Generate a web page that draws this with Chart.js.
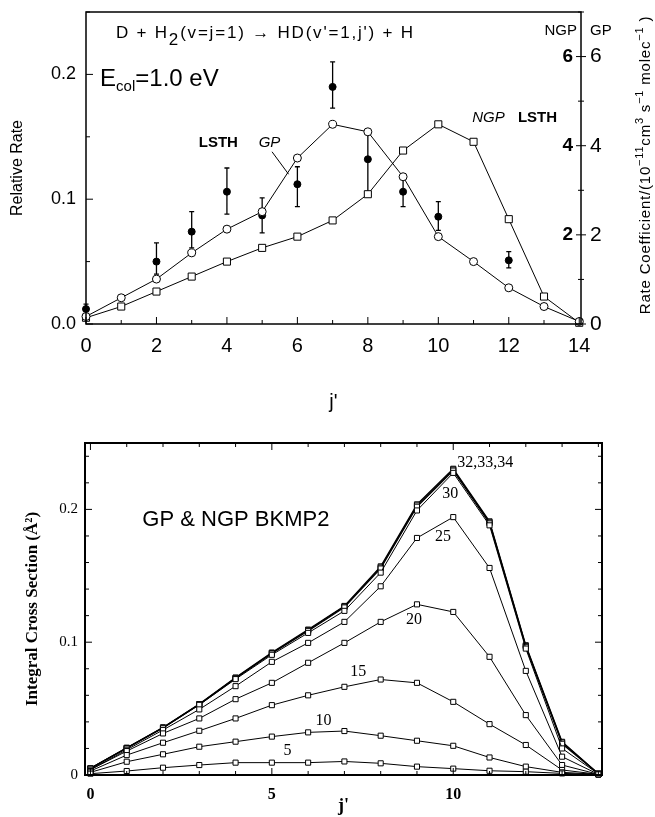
<!DOCTYPE html>
<html>
<head>
<meta charset="UTF-8">
<title>HD(v'=1, j') rotational distributions</title>
<script src="https://cdn.jsdelivr.net/npm/chart.js"></script>
<style>
	body { margin: 0; background: #fff; }
	#wrap { position: relative; width: 655px; height: 817px; }
	canvas { position: absolute; left: 0; }
</style>
</head>
<body>
<div id="wrap">
	<canvas id="topChart" width="655" height="420" style="top:0"></canvas>
	<canvas id="bottomChart" width="655" height="397" style="top:420px"></canvas>
</div>

<script>
	// ---- top panel : relative rate vs j' ----
	const jTop = [0, 1, 2, 3, 4, 5, 6, 7, 8, 9, 10, 11, 12, 13, 14];
	const gpRate  = [0.006, 0.021, 0.036, 0.057, 0.076, 0.090, 0.133, 0.160, 0.154, 0.118, 0.070, 0.050, 0.029, 0.014, 0.002];
	const ngpRate = [0.005, 0.014, 0.026, 0.038, 0.050, 0.061, 0.070, 0.083, 0.104, 0.139, 0.160, 0.146, 0.084, 0.022, 0.001];

	// LSTH experiment points with error bars
	const lsthJ    = [0, 2, 3, 4, 5, 6, 7, 8, 9, 10, 12];
	const lsthRate = [0.012, 0.050, 0.074, 0.106, 0.087, 0.112, 0.190, 0.132, 0.106, 0.086, 0.051];
	const lsthLow  = [0.008, 0.040, 0.061, 0.088, 0.073, 0.094, 0.173, 0.105, 0.094, 0.075, 0.045];
	const lsthHigh = [0.016, 0.065, 0.090, 0.125, 0.101, 0.126, 0.210, 0.154, 0.118, 0.098, 0.058];

	// right axis labels (rate coefficient) : GP on the outside, NGP inside
	const ngpTicks = [2, 4, 6];

	// ---- bottom panel : integral cross sections, one curve per partial-wave label ----
	const jBottom = [0, 1, 2, 3, 4, 5, 6, 7, 8, 9, 10, 11, 12, 13, 14];
	const ics5  = [0.001, 0.003, 0.0055, 0.0075, 0.0093, 0.0093, 0.0093, 0.0102, 0.0088, 0.0063, 0.0048, 0.0032, 0.0025, 0.0012, 0.0005];
	const ics10 = [0.002, 0.010, 0.0156, 0.0213, 0.0251, 0.0289, 0.0321, 0.0331, 0.0296, 0.0258, 0.0220, 0.0132, 0.0063, 0.0020, 0.0005];
	const ics15 = [0.003, 0.015, 0.0243, 0.0333, 0.0426, 0.0526, 0.0600, 0.0664, 0.0719, 0.0694, 0.0551, 0.0383, 0.0226, 0.0038, 0.0005];
	const ics20 = [0.004, 0.018, 0.0313, 0.0426, 0.0571, 0.0694, 0.0845, 0.0995, 0.1153, 0.1285, 0.1228, 0.0890, 0.0451, 0.0075, 0.0005];
	const ics25 = [0.004, 0.019, 0.0339, 0.0494, 0.0669, 0.0852, 0.0995, 0.1153, 0.1421, 0.1785, 0.1942, 0.1559, 0.0784, 0.0138, 0.0005];
	const ics30 = [0.005, 0.020, 0.0352, 0.0528, 0.0722, 0.0905, 0.1070, 0.1236, 0.1524, 0.1992, 0.2275, 0.1880, 0.0952, 0.0200, 0.0008];
	const ics32 = [0.005, 0.0203, 0.0356, 0.0531, 0.0728, 0.0915, 0.1085, 0.1262, 0.1555, 0.2020, 0.2292, 0.1895, 0.0965, 0.0235, 0.001];
	const ics33 = [0.005, 0.0204, 0.0357, 0.0533, 0.0731, 0.0919, 0.1090, 0.1268, 0.1563, 0.2030, 0.2300, 0.1903, 0.0972, 0.0245, 0.001];
	const ics34 = [0.005, 0.0205, 0.0358, 0.0534, 0.0734, 0.0922, 0.1095, 0.1273, 0.1571, 0.2038, 0.2306, 0.1910, 0.0977, 0.0250, 0.001];

	const SANS = '"Liberation Sans", Arial, sans-serif';
	const SERIF = '"Liberation Serif", "Times New Roman", serif';

	function toXY(xs, ys) {
		return xs.map(function(x, i){ return {x: x, y: ys[i]}; });
	}

	// text made of pieces (sub/superscripts): [text, font, dy]
	function drawParts(ctx, parts, x, y, align) {
		let w = 0;
		parts.forEach(function(p){ ctx.font = p[1]; w += ctx.measureText(p[0]).width; });
		let cx = align === 'center' ? x - w / 2 : (align === 'right' ? x - w : x);
		ctx.textAlign = 'left';
		ctx.textBaseline = 'middle';
		parts.forEach(function(p){
			ctx.font = p[1];
			ctx.fillText(p[0], cx, y + (p[2] || 0));
			cx += ctx.measureText(p[0]).width;
		});
	}

	// fixed axis sizes so the plot box lands where it should
	function fixWidth(w) {
		return function(s){ s.width = w; s.paddingTop = 0; s.paddingBottom = 0; };
	}
	function fixHeight(h) {
		return function(s){ s.height = h; s.paddingLeft = 0; s.paddingRight = 0; };
	}

	// box around the plot + inward tick marks
	const frame = {
		id: 'frame',
		afterDraw(chart, args, o) {
			const ctx = chart.ctx, a = chart.chartArea;
			ctx.save();
			ctx.strokeStyle = '#000';
			ctx.lineWidth = o.lineWidth;
			ctx.strokeRect(a.left, a.top, a.right - a.left, a.bottom - a.top);
			ctx.lineWidth = 1;
			ctx.beginPath();
			o.marks.forEach(function(m){
				const s = chart.scales[m.scale];
				for (let k = Math.ceil(s.min / m.step - 1e-6); k * m.step <= s.max + 1e-9; k++) {
					const v = k * m.step;
					const r = v / m.major;
					const len = Math.abs(r - Math.round(r)) < 1e-6 ? m.len[1] : m.len[0];
					const back = m.both ? len : 0;
					const p = s.getPixelForValue(v);
					if (m.edge === 'bottom') { ctx.moveTo(p, a.bottom + back); ctx.lineTo(p, a.bottom - len); }
					if (m.edge === 'top')    { ctx.moveTo(p, a.top - back);    ctx.lineTo(p, a.top + len); }
					if (m.edge === 'left')   { ctx.moveTo(a.left - back, p);   ctx.lineTo(a.left + len, p); }
					if (m.edge === 'right')  { ctx.moveTo(a.right + back, p);  ctx.lineTo(a.right - len, p); }
				}
			});
			ctx.stroke();
			ctx.restore();
		}
	};

	// error bars for the LSTH points
	const errorBars = {
		id: 'errorBars',
		beforeDatasetsDraw(chart) {
			const ctx = chart.ctx, x = chart.scales.x, y = chart.scales.y;
			ctx.save();
			ctx.strokeStyle = '#000';
			ctx.lineWidth = 1.3;
			ctx.beginPath();
			lsthJ.forEach(function(j, i){
				const px = x.getPixelForValue(j);
				const lo = y.getPixelForValue(lsthLow[i]);
				const hi = y.getPixelForValue(lsthHigh[i]);
				ctx.moveTo(px, lo); ctx.lineTo(px, hi);
				ctx.moveTo(px - 2.5, lo); ctx.lineTo(px + 2.5, lo);
				ctx.moveTo(px - 2.5, hi); ctx.lineTo(px + 2.5, hi);
			});
			ctx.stroke();
			ctx.restore();
		}
	};

	// labels of the top panel
	const topText = {
		id: 'topText',
		afterDraw(chart) {
			const ctx = chart.ctx, x = chart.scales.x, y = chart.scales.y, y2 = chart.scales.y2, a = chart.chartArea;
			const f17 = '17px ' + SANS;
			ctx.save();
			ctx.fillStyle = '#000';
			ctx.strokeStyle = '#000';
			ctx.letterSpacing = '1.8px';
			drawParts(ctx, [['D + H', f17], ['2', f17, 7], ["(v=j=1) \u2192 HD(v'=1,j') + H", f17]],
				x.getPixelForValue(0.85), y.getPixelForValue(0.233), 'left');
			ctx.letterSpacing = '0px';
			drawParts(ctx, [['E', '24px ' + SANS], ['col', '15px ' + SANS, 7], ['=1.0 eV', '24px ' + SANS]],
				x.getPixelForValue(0.4), y.getPixelForValue(0.196), 'left');
			drawParts(ctx, [['LSTH', 'bold 15px ' + SANS]], x.getPixelForValue(3.2), y.getPixelForValue(0.145), 'left');
			drawParts(ctx, [['GP', 'italic 15px ' + SANS]], x.getPixelForValue(4.9), y.getPixelForValue(0.145), 'left');
			drawParts(ctx, [['NGP', 'italic 15px ' + SANS]], x.getPixelForValue(10.96), y.getPixelForValue(0.165), 'left');
			drawParts(ctx, [['LSTH', 'bold 15px ' + SANS]], x.getPixelForValue(12.26), y.getPixelForValue(0.165), 'left');
			// header above the right axis
			drawParts(ctx, [['NGP', '15px ' + SANS]], a.right - 4, y.getPixelForValue(0.235), 'right');
			drawParts(ctx, [['GP', '15px ' + SANS]], a.right + 9, y.getPixelForValue(0.235), 'left');
			// leader line from "GP" to its curve
			ctx.lineWidth = 1;
			ctx.beginPath();
			ctx.moveTo(x.getPixelForValue(5.28), y.getPixelForValue(0.138));
			ctx.lineTo(x.getPixelForValue(5.75), y.getPixelForValue(0.120));
			ctx.stroke();
			// NGP scale labels inside the plot
			ngpTicks.forEach(function(v){
				drawParts(ctx, [[String(v), 'bold 19px ' + SANS]], a.right - 8, y2.getPixelForValue(v), 'right');
			});
			// right axis title, reading bottom to top
			const f = '15px ' + SANS, fs = '11px ' + SANS;
			const parts = [['Rate Coefficient/(10', f], ['\u221211', fs, -6], ['cm', f], ['3', fs, -6], [' s', f],
				['\u22121', fs, -6], [' molec', f], ['\u22121', fs, -6], [' )', f]];
			ctx.translate(646, (a.top + a.bottom) / 2 - 3);
			ctx.rotate(-Math.PI / 2);
			ctx.letterSpacing = '0.8px';
			drawParts(ctx, parts, 0, 0, 'center');
			ctx.restore();
		}
	};

	// curve labels of the bottom panel
	const bottomNotes = [
		{text: '32,33,34', j: 10.11, v: 0.235},
		{text: '30', j: 9.70, v: 0.212},
		{text: '25', j: 9.50, v: 0.179},
		{text: '20', j: 8.70, v: 0.117},
		{text: '15', j: 7.16, v: 0.0774},
		{text: '10', j: 6.20, v: 0.0406},
		{text: '5',  j: 5.32, v: 0.018}
	];
	const bottomText = {
		id: 'bottomText',
		afterDraw(chart) {
			const ctx = chart.ctx, x = chart.scales.x, y = chart.scales.y;
			ctx.save();
			ctx.fillStyle = '#000';
			drawParts(ctx, [['GP & NGP BKMP2', '22px ' + SANS]], x.getPixelForValue(1.43), y.getPixelForValue(0.192), 'left');
			bottomNotes.forEach(function(n){
				drawParts(ctx, [[n.text, '16px ' + SERIF]], x.getPixelForValue(n.j), y.getPixelForValue(n.v), 'left');
			});
			ctx.restore();
		}
	};

	const noGrid = {display: false, drawTicks: false};

	// top chart
	new Chart(document.getElementById('topChart'), {
		type: 'line',
		data: {
			datasets: [
				{
					label: 'GP',
					data: toXY(jTop, gpRate),
					borderColor: '#000', borderWidth: 1,
					pointStyle: 'circle', pointRadius: 4,
					pointBackgroundColor: '#fff', pointBorderColor: '#000', pointBorderWidth: 1,
					clip: 10
				},
				{
					label: 'NGP',
					data: toXY(jTop, ngpRate),
					borderColor: '#000', borderWidth: 1,
					pointStyle: 'rect', pointRadius: 5,
					pointBackgroundColor: '#fff', pointBorderColor: '#000', pointBorderWidth: 1,
					clip: 10
				},
				{
					label: 'LSTH',
					data: toXY(lsthJ, lsthRate),
					showLine: false,
					pointStyle: 'circle', pointRadius: 3.5,
					pointBackgroundColor: '#000', pointBorderColor: '#000',
					clip: 10
				}
			]
		},
		options: {
			responsive: false,
			animation: false,
			events: [],
			layout: {padding: {top: 12, left: 0, right: 0, bottom: 0}},
			plugins: {
				legend: {display: false},
				tooltip: {enabled: false},
				frame: {
					lineWidth: 1.5,
					marks: [
						{scale: 'x', edge: 'bottom', step: 1, major: 2, len: [4, 7]},
						{scale: 'y', edge: 'left', step: 0.05, major: 0.1, len: [4, 7]},
						{scale: 'y2', edge: 'right', step: 1, major: 2, len: [3, 5], both: true}
					]
				}
			},
			scales: {
				x: {
					type: 'linear', min: 0, max: 14.05,
					grid: noGrid, border: {display: false},
					ticks: {stepSize: 2, includeBounds: false, padding: 10, color: '#000', font: {family: SANS, size: 20}},
					title: {display: true, text: "j'", color: '#000', font: {family: SANS, size: 20}, padding: {top: 0, bottom: 6}},
					afterFit: fixHeight(96)
				},
				y: {
					position: 'left', min: 0, max: 0.25,
					grid: noGrid, border: {display: false},
					ticks: {stepSize: 0.1, includeBounds: false, padding: 10, color: '#000', font: {family: SANS, size: 18},
						callback: function(v){ return v.toFixed(1); }},
					title: {display: true, text: 'Relative Rate', color: '#000', font: {family: SANS, size: 16}, padding: {top: 8, bottom: 0}},
					afterFit: fixWidth(86)
				},
				y2: {
					position: 'right', min: 0, max: 7,
					grid: noGrid, border: {display: false},
					ticks: {stepSize: 2, includeBounds: false, padding: 9, color: '#000', font: {family: SANS, size: 21}},
					afterFit: fixWidth(74)
				}
			}
		},
		plugins: [errorBars, frame, topText]
	});

	// bottom chart
	function icsSet(label, values, width) {
		return {
			label: label,
			data: toXY(jBottom, values),
			borderColor: '#000', borderWidth: width,
			pointStyle: 'rect', pointRadius: 3.6,
			pointBackgroundColor: '#fff', pointBorderColor: '#000', pointBorderWidth: 1,
			clip: 10
		};
	}

	new Chart(document.getElementById('bottomChart'), {
		type: 'line',
		data: {
			datasets: [
				icsSet('5', ics5, 1),
				icsSet('10', ics10, 1),
				icsSet('15', ics15, 1),
				icsSet('20', ics20, 1),
				icsSet('25', ics25, 1),
				icsSet('30', ics30, 1),
				icsSet('32', ics32, 1.2),
				icsSet('33', ics33, 1.2),
				icsSet('34', ics34, 1.2)
			]
		},
		options: {
			responsive: false,
			animation: false,
			events: [],
			layout: {padding: {top: 23, left: 0, right: 53, bottom: 0}},
			plugins: {
				legend: {display: false},
				tooltip: {enabled: false},
				frame: {
					lineWidth: 2,
					marks: [
						{scale: 'x', edge: 'bottom', step: 1, major: 5, len: [4, 7]},
						{scale: 'x', edge: 'top', step: 1, major: 5, len: [4, 7]},
						{scale: 'y', edge: 'left', step: 0.02, major: 0.1, len: [4, 7]},
						{scale: 'y', edge: 'right', step: 0.02, major: 0.1, len: [4, 7]}
					]
				}
			},
			scales: {
				x: {
					type: 'linear', min: -0.15, max: 14.1,
					grid: noGrid, border: {display: false},
					ticks: {stepSize: 5, includeBounds: false, padding: 10, color: '#000', font: {family: SERIF, size: 16, weight: 'bold'}},
					title: {display: true, text: "j'", color: '#000', font: {family: SERIF, size: 18, weight: 'bold'}, padding: {top: 0, bottom: 0}},
					afterFit: fixHeight(42)
				},
				y: {
					min: 0, max: 0.25,
					grid: noGrid, border: {display: false},
					ticks: {stepSize: 0.1, includeBounds: false, padding: 7, color: '#000', font: {family: SERIF, size: 15},
						callback: function(v){ return v === 0 ? '0' : v.toFixed(1); }},
					title: {display: true, text: 'Integral Cross Section (\u00C5\u00B2)', color: '#000',
						font: {family: SERIF, size: 17, weight: 'bold'}, padding: {top: 22, bottom: 0}},
					afterFit: fixWidth(85)
				}
			}
		},
		plugins: [frame, bottomText]
	});
</script>
</body>
</html>
